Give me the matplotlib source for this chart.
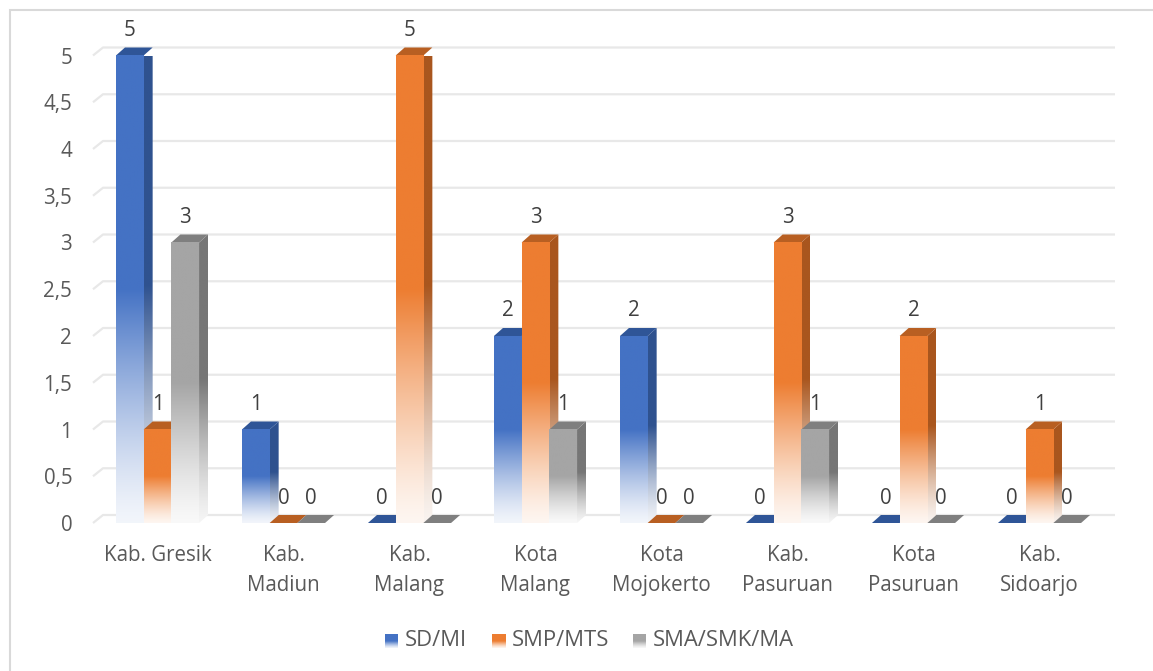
import numpy as np
import matplotlib.pyplot as plt
from matplotlib.patches import Polygon, Rectangle
from matplotlib.colors import to_rgb

plt.rcParams['font.family'] = ['Open Sans', 'DejaVu Sans']

# data
categories = ["Kab. Gresik", "Kab.\nMadiun", "Kab.\nMalang", "Kota\nMalang",
              "Kota\nMojokerto", "Kab.\nPasuruan", "Kota\nPasuruan", "Kab.\nSidoarjo"]
series_names = ["SD/MI", "SMP/MTS", "SMA/SMK/MA"]
sd_mi = [5, 1, 0, 2, 2, 0, 0, 0]
smp_mts = [1, 0, 5, 3, 0, 3, 2, 1]
sma_smk_ma = [3, 0, 0, 1, 0, 1, 0, 0]
y_ticks = np.arange(0, 5.01, 0.5)

front_cols = ["#4472C4", "#ED7D31", "#A5A5A5"]
side_cols = ["#2F528F", "#A9561E", "#767676"]
top_cols = ["#2F5597", "#B85F22", "#7F7F7F"]

W, H = 1153, 671
PX_X, PX_Y = 126.0, 93.5      # pixels per category / per unit
X0_PX, Y0_PX = 157.5, 523.0   # pixel position of category 0 / value 0
DX, DY = 9 / PX_X, 8 / PX_Y   # 3d depth offset in data units
BW = 27.7 / PX_X
TXT = "#595959"
FS = 14.8


def to_data(px, py):
    return (px - X0_PX) / PX_X, (Y0_PX - py) / PX_Y


def fade(color, n=256):
    t = np.linspace(0, 1, n)
    mix = 0.07 + 0.93 * np.clip(t / 0.5, 0, 1) ** 1.3
    c = np.array(to_rgb(color))
    rgb = (1 - mix)[:, None] + mix[:, None] * c[None, :]
    return rgb[:, None, :]


fig = plt.figure(figsize=(W / 100, H / 100), dpi=100)
left_px, right_px = 93, 1115
ax = fig.add_axes([left_px / W, (H - Y0_PX) / H, (right_px - left_px) / W,
                   (Y0_PX - (Y0_PX - 5 * PX_Y)) / H])
xlim = ((left_px - X0_PX) / PX_X, (right_px - X0_PX) / PX_X)

# back-wall gridlines with the slanted floor edge
for v in y_ticks:
    ax.plot([xlim[0], xlim[0] + 10 / PX_X, xlim[1]], [v, v + DY, v + DY],
            color="#E8E8E8", lw=1.6, clip_on=False, zorder=0,
            solid_capstyle='butt')

values = [sd_mi, smp_mts, sma_smk_ma]
z = 2.0
for i in range(len(categories)):
    for s, vals in enumerate(values):
        h = vals[i]
        x0 = i - 1.5 * BW + s * BW
        x1 = x0 + BW
        z += 0.01
        if h > 0:
            side = Polygon([(x1, 0), (x1, h), (x1 + DX, h + DY), (x1 + DX, DY)],
                           closed=True, fc='none', ec='none')
            ax.add_patch(side)
            im = ax.imshow(fade(side_cols[s]), extent=[x1, x1 + DX, 0, h + DY],
                           origin='lower', aspect='auto', interpolation='bilinear',
                           zorder=z)
            im.set_clip_path(side)
            ax.imshow(fade(front_cols[s]), extent=[x0, x1, 0, h], origin='lower',
                      aspect='auto', interpolation='bilinear', zorder=z + 0.002,
                      clip_on=False)
        top = Polygon([(x0, h), (x1, h), (x1 + DX, h + DY), (x0 + DX, h + DY)],
                      closed=True, fc=top_cols[s], ec='none', zorder=z + 0.001,
                      clip_on=False)
        ax.add_patch(top)
        ax.text((x0 + x1) / 2, h + 25 / PX_Y, f"{h}", ha='center', va='center',
                fontsize=FS, color="#404040", zorder=10)

ax.set_xlim(*xlim)
ax.set_ylim(0, 5)
ax.set_yticks(y_ticks, labels=[f"{v:g}".replace('.', ',') for v in y_ticks])
ax.set_xticks(range(len(categories)), labels=categories)
ax.tick_params(axis='y', length=0, pad=15, labelsize=FS, labelcolor=TXT)
ax.tick_params(axis='x', length=0, pad=16, labelsize=FS, labelcolor=TXT)
for lab in ax.get_xticklabels():
    lab.set_linespacing(1.55)
for sp in ax.spines.values():
    sp.set_visible(False)
ax.patch.set_alpha(0)

# legend row
leg_items = [(385, 405), (492, 512), (633, 653)]
for s, (sq_px, txt_px) in enumerate(leg_items):
    xa, ya = to_data(sq_px, 648)
    xb, yb = to_data(sq_px + 13, 635)
    ax.imshow(fade(front_cols[s]), extent=[xa, xb, ya, yb], origin='lower',
              aspect='auto', interpolation='bilinear', clip_on=False, zorder=5)
    tx, ty = to_data(txt_px, 641)
    ax.text(tx, ty, series_names[s], ha='left', va='center', fontsize=FS + 1,
            color=TXT)

ax.set_xlim(*xlim)
ax.set_ylim(0, 5)

# chart border
fig.add_artist(Rectangle((9.5 / W, -0.1), 1.2, (H - 9.5) / H + 0.1,
                         transform=fig.transFigure, fill=False,
                         ec="#D9D9D9", lw=1.5))

fig.savefig("out.png", dpi=100)
